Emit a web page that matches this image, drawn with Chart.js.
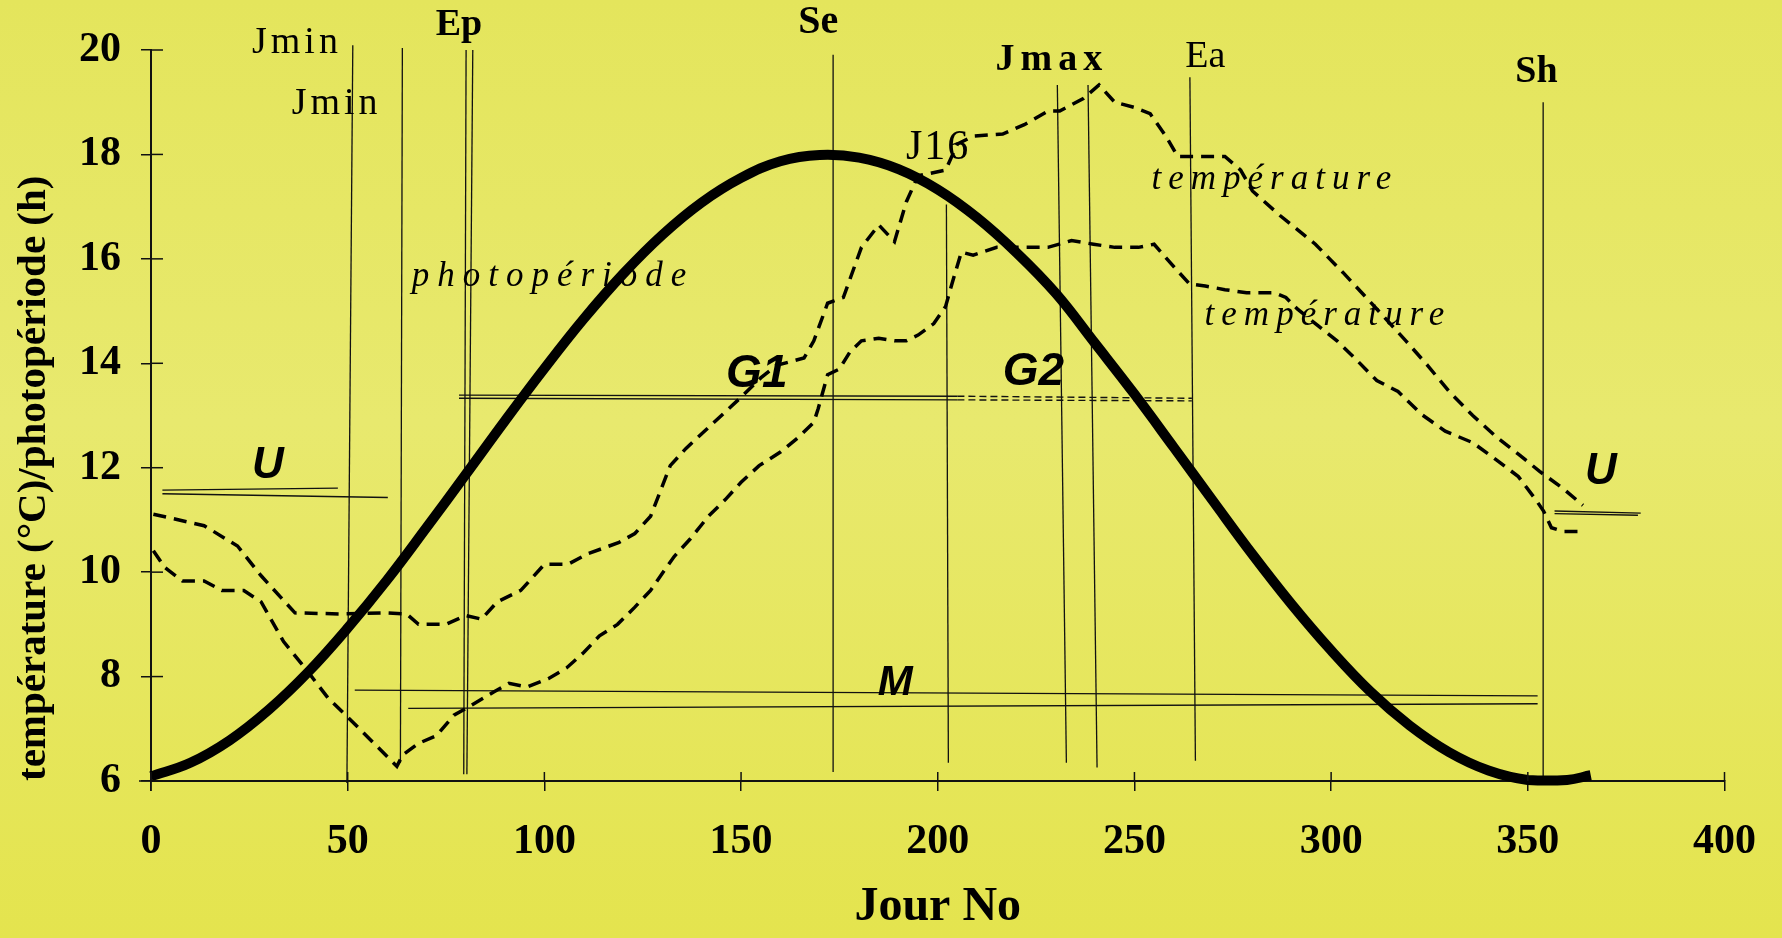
<!DOCTYPE html>
<html>
<head>
<meta charset="utf-8">
<script src="https://cdn.jsdelivr.net/npm/chart.js@4.4.1/dist/chart.umd.min.js"></script>
<style>
  html, body { margin: 0; padding: 0; }
  body {
    width: 1782px; height: 938px; overflow: hidden;
    background: linear-gradient(to bottom, rgb(228,229,92) 0%, rgb(232,233,110) 45%, rgb(228,228,78) 100%);
  }
  #wrap { position: relative; width: 1782px; height: 938px; }
</style>
</head>
<body>
<div id="wrap"><canvas id="chart"></canvas></div>
<script>
// photoperiod (h)
const photoDays = [0, 10, 20, 30, 40, 50, 60, 70, 80, 90, 100, 110, 120, 130, 140, 150, 160, 170, 180,
  190, 200, 210, 220, 230, 240, 250, 260, 270, 280, 290, 300, 310, 320, 330, 340, 350, 360, 366];
const photoHours = [6.09, 6.35, 6.78, 7.37, 8.09, 8.93, 9.85, 10.85, 11.87, 12.90, 13.90, 14.85, 15.71,
  16.46, 17.08, 17.55, 17.87, 17.99, 17.94, 17.72, 17.33, 16.79, 16.12, 15.34, 14.38, 13.41, 12.39,
  11.36, 10.34, 9.38, 8.50, 7.71, 7.06, 6.55, 6.20, 6.02, 6.02, 6.11];

// upper temperature curve
const tempHighDays = [0.6, 13.5, 22, 28, 36.6, 48, 59.6, 65, 68, 75, 80, 84, 88, 94, 100, 106, 111, 119,
  123, 127, 132, 136, 140, 146, 150, 155, 159, 166, 168.5, 172, 176, 180.6, 185, 189, 192, 195, 202,
  205, 209, 216.5, 222, 228, 231, 237, 241, 245, 250, 254, 258, 261, 265.5, 273, 277, 280, 287, 296,
  303, 311.6, 319, 324.5, 330, 336, 342, 347.6, 353, 359, 364];
const tempHigh = [11.11, 10.89, 10.5, 9.93, 9.22, 9.2, 9.22, 9.2, 9.0, 9.0, 9.17, 9.1, 9.43, 9.65, 10.15,
  10.15, 10.35, 10.57, 10.74, 11.07, 12.04, 12.37, 12.65, 13.07, 13.35, 13.72, 13.96, 14.1, 14.43,
  15.15, 15.26, 16.22, 16.65, 16.33, 17.09, 17.59, 17.7, 18.2, 18.35, 18.39, 18.57, 18.83, 18.83,
  19.07, 19.33, 19.0, 18.9, 18.78, 18.35, 17.96, 17.96, 17.96, 17.7, 17.3, 16.83, 16.28, 15.74,
  15.04, 14.43, 13.96, 13.46, 13.0, 12.59, 12.26, 11.93, 11.6, 11.28];

// lower temperature curve
const tempLowDays = [0.6, 3.5, 8, 13.5, 18, 23.6, 28, 33.7, 39.5, 45, 51, 56.7, 62.5, 64, 68, 72.6, 77,
  81, 87, 91, 95.6, 101, 105.7, 110, 114, 118.6, 123, 127, 130, 133, 137, 141.7, 146, 150, 154.6, 160,
  164.7, 168.5, 169.6, 172, 175, 177.7, 180.6, 185, 189, 192, 195, 199, 202, 203.6, 206, 209, 215,
  222, 228, 234, 239.6, 245, 251, 255, 260, 264, 268, 273, 278.5, 285.7, 288.5, 291.4, 296, 301.5,
  306, 311.6, 317, 323, 329, 336, 342, 347.6, 352, 354, 356, 359, 364];
const tempLow = [10.41, 10.09, 9.83, 9.83, 9.65, 9.65, 9.43, 8.67, 8.13, 7.59, 7.15, 6.72, 6.28, 6.5,
  6.72, 6.87, 7.26, 7.43, 7.7, 7.87, 7.8, 7.96, 8.17, 8.46, 8.78, 9.0, 9.33, 9.65, 9.98, 10.3, 10.63,
  11.07, 11.39, 11.72, 12.04, 12.3, 12.59, 12.87, 13.13, 13.78, 13.89, 14.22, 14.43, 14.48, 14.43,
  14.43, 14.54, 14.76, 15.09, 15.52, 16.13, 16.07, 16.22, 16.22, 16.22, 16.35, 16.28, 16.22, 16.22,
  16.28, 15.85, 15.52, 15.48, 15.41, 15.35, 15.35, 15.26, 15.04, 14.76, 14.43, 14.1, 13.67, 13.46,
  13.02, 12.7, 12.48, 12.15, 11.83, 11.39, 11.17, 10.85, 10.78, 10.78];

// vertical marker lines (Jmin, Jmin, Ep, Ep, Se, J16, Jmax, Jmax, Ea, Sh)
const vTopDay    = [51.3, 63.9, 80.1, 81.8, 173.4, 202.2, 230.4, 238.2, 264.1, 353.9];
const vTopValue  = [20.09, 20.04, 20.0, 20.0, 19.91, 17.04, 19.33, 19.33, 19.48, 19.0];
const vBotDay    = [49.8, 63.4, 79.5, 80.3, 173.4, 202.7, 232.7, 240.5, 265.5, 353.9];
const vBotValue  = [5.96, 6.35, 6.13, 6.13, 6.17, 6.35, 6.35, 6.26, 6.39, 5.96];

// horizontal period lines (U, U, G1, G1, M, M, U, U)
const hStartDay   = [2.9, 2.9, 78.3, 78.3, 51.8, 65.4, 356.8, 356.8];
const hStartValue = [11.57, 11.5, 13.39, 13.33, 7.74, 7.39, 11.17, 11.12];
const hEndDay     = [47.5, 60.2, 205, 205, 352.5, 352.5, 378.7, 378];
const hEndValue   = [11.61, 11.43, 13.37, 13.3, 7.63, 7.48, 11.13, 11.09];

// dashed G2 continuation
const g2StartDay = [205, 205];
const g2StartValue = [13.37, 13.3];
const g2EndDay = [264.6, 264.6];
const g2EndValue = [13.33, 13.28];

// text annotations
const labelText  = ['Jmin', 'Jmin', 'Ep', 'Se', 'J16', 'Jmax', 'Ea', 'Sh', 'photopériode',
  'température', 'température', 'G1', 'G2', 'U', 'U', 'M'];
const labelDay   = [37.1, 47.2, 78.3, 169.6, 200.1, 229, 268, 352.2, 102.2, 285.7, 299.2, 154, 224.3,
  29.7, 368.6, 189.2];
const labelValue = [20.13, 18.96, 20.48, 20.52, 18.13, 19.8, 19.87, 19.57, 15.65, 17.52, 14.91, 13.78,
  13.83, 12.04, 11.93, 7.87];

const SERIF = '"Liberation Serif", "Times New Roman", serif';
const SANS = '"Liberation Sans", Arial, sans-serif';

const labelFonts = {
  'Jmin': { font: '38px ' + SERIF, spacing: '4px' },
  'Ep': { font: 'bold 38px ' + SERIF, spacing: '0px' },
  'Se': { font: 'bold 40px ' + SERIF, spacing: '0px' },
  'J16': { font: '42px ' + SERIF, spacing: '2px' },
  'Jmax': { font: 'bold 38px ' + SERIF, spacing: '6px' },
  'Ea': { font: '38px ' + SERIF, spacing: '0px' },
  'Sh': { font: 'bold 38px ' + SERIF, spacing: '0px' },
  'photopériode': { font: 'italic 35px ' + SERIF, spacing: '8px' },
  'température': { font: 'italic 35px ' + SERIF, spacing: '7px' },
  'G1': { font: 'italic bold 46px ' + SANS, spacing: '0px' },
  'G2': { font: 'italic bold 46px ' + SANS, spacing: '0px' },
  'U': { font: 'italic bold 44px ' + SANS, spacing: '0px' },
  'M': { font: 'italic bold 42px ' + SANS, spacing: '0px' }
};

function toPoints(xs, ys) {
  return xs.map((x, i) => ({ x: x, y: ys[i] }));
}

function segment(x1, y1, x2, y2, width, dash) {
  return {
    data: [{ x: x1, y: y1 }, { x: x2, y: y2 }],
    borderColor: '#111',
    borderWidth: width,
    borderDash: dash || [],
    pointRadius: 0,
    tension: 0,
    clip: false
  };
}

const datasets = [];

datasets.push({
  label: 'photopériode',
  data: toPoints(photoDays, photoHours),
  borderColor: '#000',
  borderWidth: 10,
  pointRadius: 0,
  tension: 0.4,
  clip: false
});

datasets.push({
  label: 'température haute',
  data: toPoints(tempHighDays, tempHigh),
  borderColor: '#000',
  borderWidth: 3.5,
  borderDash: [13, 8],
  pointRadius: 0,
  tension: 0
});

datasets.push({
  label: 'température basse',
  data: toPoints(tempLowDays, tempLow),
  borderColor: '#000',
  borderWidth: 3.5,
  borderDash: [13, 8],
  pointRadius: 0,
  tension: 0
});

vTopDay.forEach((d, i) => {
  datasets.push(segment(d, vTopValue[i], vBotDay[i], vBotValue[i], 1.3));
});

hStartDay.forEach((d, i) => {
  datasets.push(segment(d, hStartValue[i], hEndDay[i], hEndValue[i], 1.4));
});

g2StartDay.forEach((d, i) => {
  datasets.push(segment(d, g2StartValue[i], g2EndDay[i], g2EndValue[i], 1.4, [7, 4]));
});

// small ticks crossing the axes, and the text annotations
const overlayPlugin = {
  id: 'overlay',
  afterDraw(chart) {
    const ctx = chart.ctx;
    const xs = chart.scales.x;
    const ys = chart.scales.y;
    const x0 = xs.getPixelForValue(0);
    const y0 = ys.getPixelForValue(6);

    ctx.save();
    ctx.strokeStyle = '#111';
    ctx.lineWidth = 1.5;
    xs.ticks.forEach(t => {
      const px = xs.getPixelForValue(t.value);
      ctx.beginPath();
      ctx.moveTo(px, y0);
      ctx.lineTo(px, y0 - 9);
      ctx.stroke();
    });
    ys.ticks.forEach(t => {
      const py = ys.getPixelForValue(t.value);
      ctx.beginPath();
      ctx.moveTo(x0, py);
      ctx.lineTo(x0 + 12, py);
      ctx.stroke();
    });
    // axes run a little past the origin
    ctx.beginPath();
    ctx.moveTo(x0 - 12, y0);
    ctx.lineTo(x0, y0);
    ctx.moveTo(x0, y0);
    ctx.lineTo(x0, y0 + 10);
    ctx.stroke();

    ctx.fillStyle = '#000';
    ctx.textAlign = 'center';
    ctx.textBaseline = 'middle';
    labelText.forEach((txt, i) => {
      const f = labelFonts[txt];
      ctx.font = f.font;
      ctx.letterSpacing = f.spacing;
      ctx.fillText(txt, xs.getPixelForValue(labelDay[i]), ys.getPixelForValue(labelValue[i]));
    });
    ctx.restore();
  }
};

new Chart(document.getElementById('chart'), {
  type: 'line',
  data: { datasets: datasets },
  options: {
    responsive: true,
    maintainAspectRatio: false,
    animation: false,
    devicePixelRatio: 1,
    layout: { padding: { top: 50, right: 52, bottom: 0, left: 0 } },
    plugins: {
      legend: { display: false },
      tooltip: { enabled: false }
    },
    scales: {
      x: {
        type: 'linear',
        min: 0,
        max: 400,
        afterFit: s => { s.height = 157; },
        ticks: {
          stepSize: 50,
          color: '#000',
          padding: 26,
          maxRotation: 0,
          font: { family: SERIF, size: 42, weight: 'bold' }
        },
        grid: { drawOnChartArea: false, tickLength: 10, color: '#111', lineWidth: 1.5 },
        border: { color: '#111', width: 2 },
        title: {
          display: true,
          text: 'Jour No',
          color: '#000',
          padding: { top: 0, bottom: 2 },
          font: { family: SERIF, size: 48, weight: 'bold' }
        }
      },
      y: {
        min: 6,
        max: 20,
        afterFit: s => { s.width = 151; },
        ticks: {
          stepSize: 2,
          color: '#000',
          padding: 20,
          font: { family: SERIF, size: 42, weight: 'bold' }
        },
        grid: { drawOnChartArea: false, tickLength: 10, color: '#111', lineWidth: 1.5 },
        border: { color: '#111', width: 2 },
        title: {
          display: true,
          text: 'température (°C)/photopériode (h)',
          align: 'start',
          color: '#000',
          padding: { top: 10, bottom: 0 },
          font: { family: SERIF, size: 41, weight: 'bold' }
        }
      }
    }
  },
  plugins: [overlayPlugin]
});
</script>
</body>
</html>
